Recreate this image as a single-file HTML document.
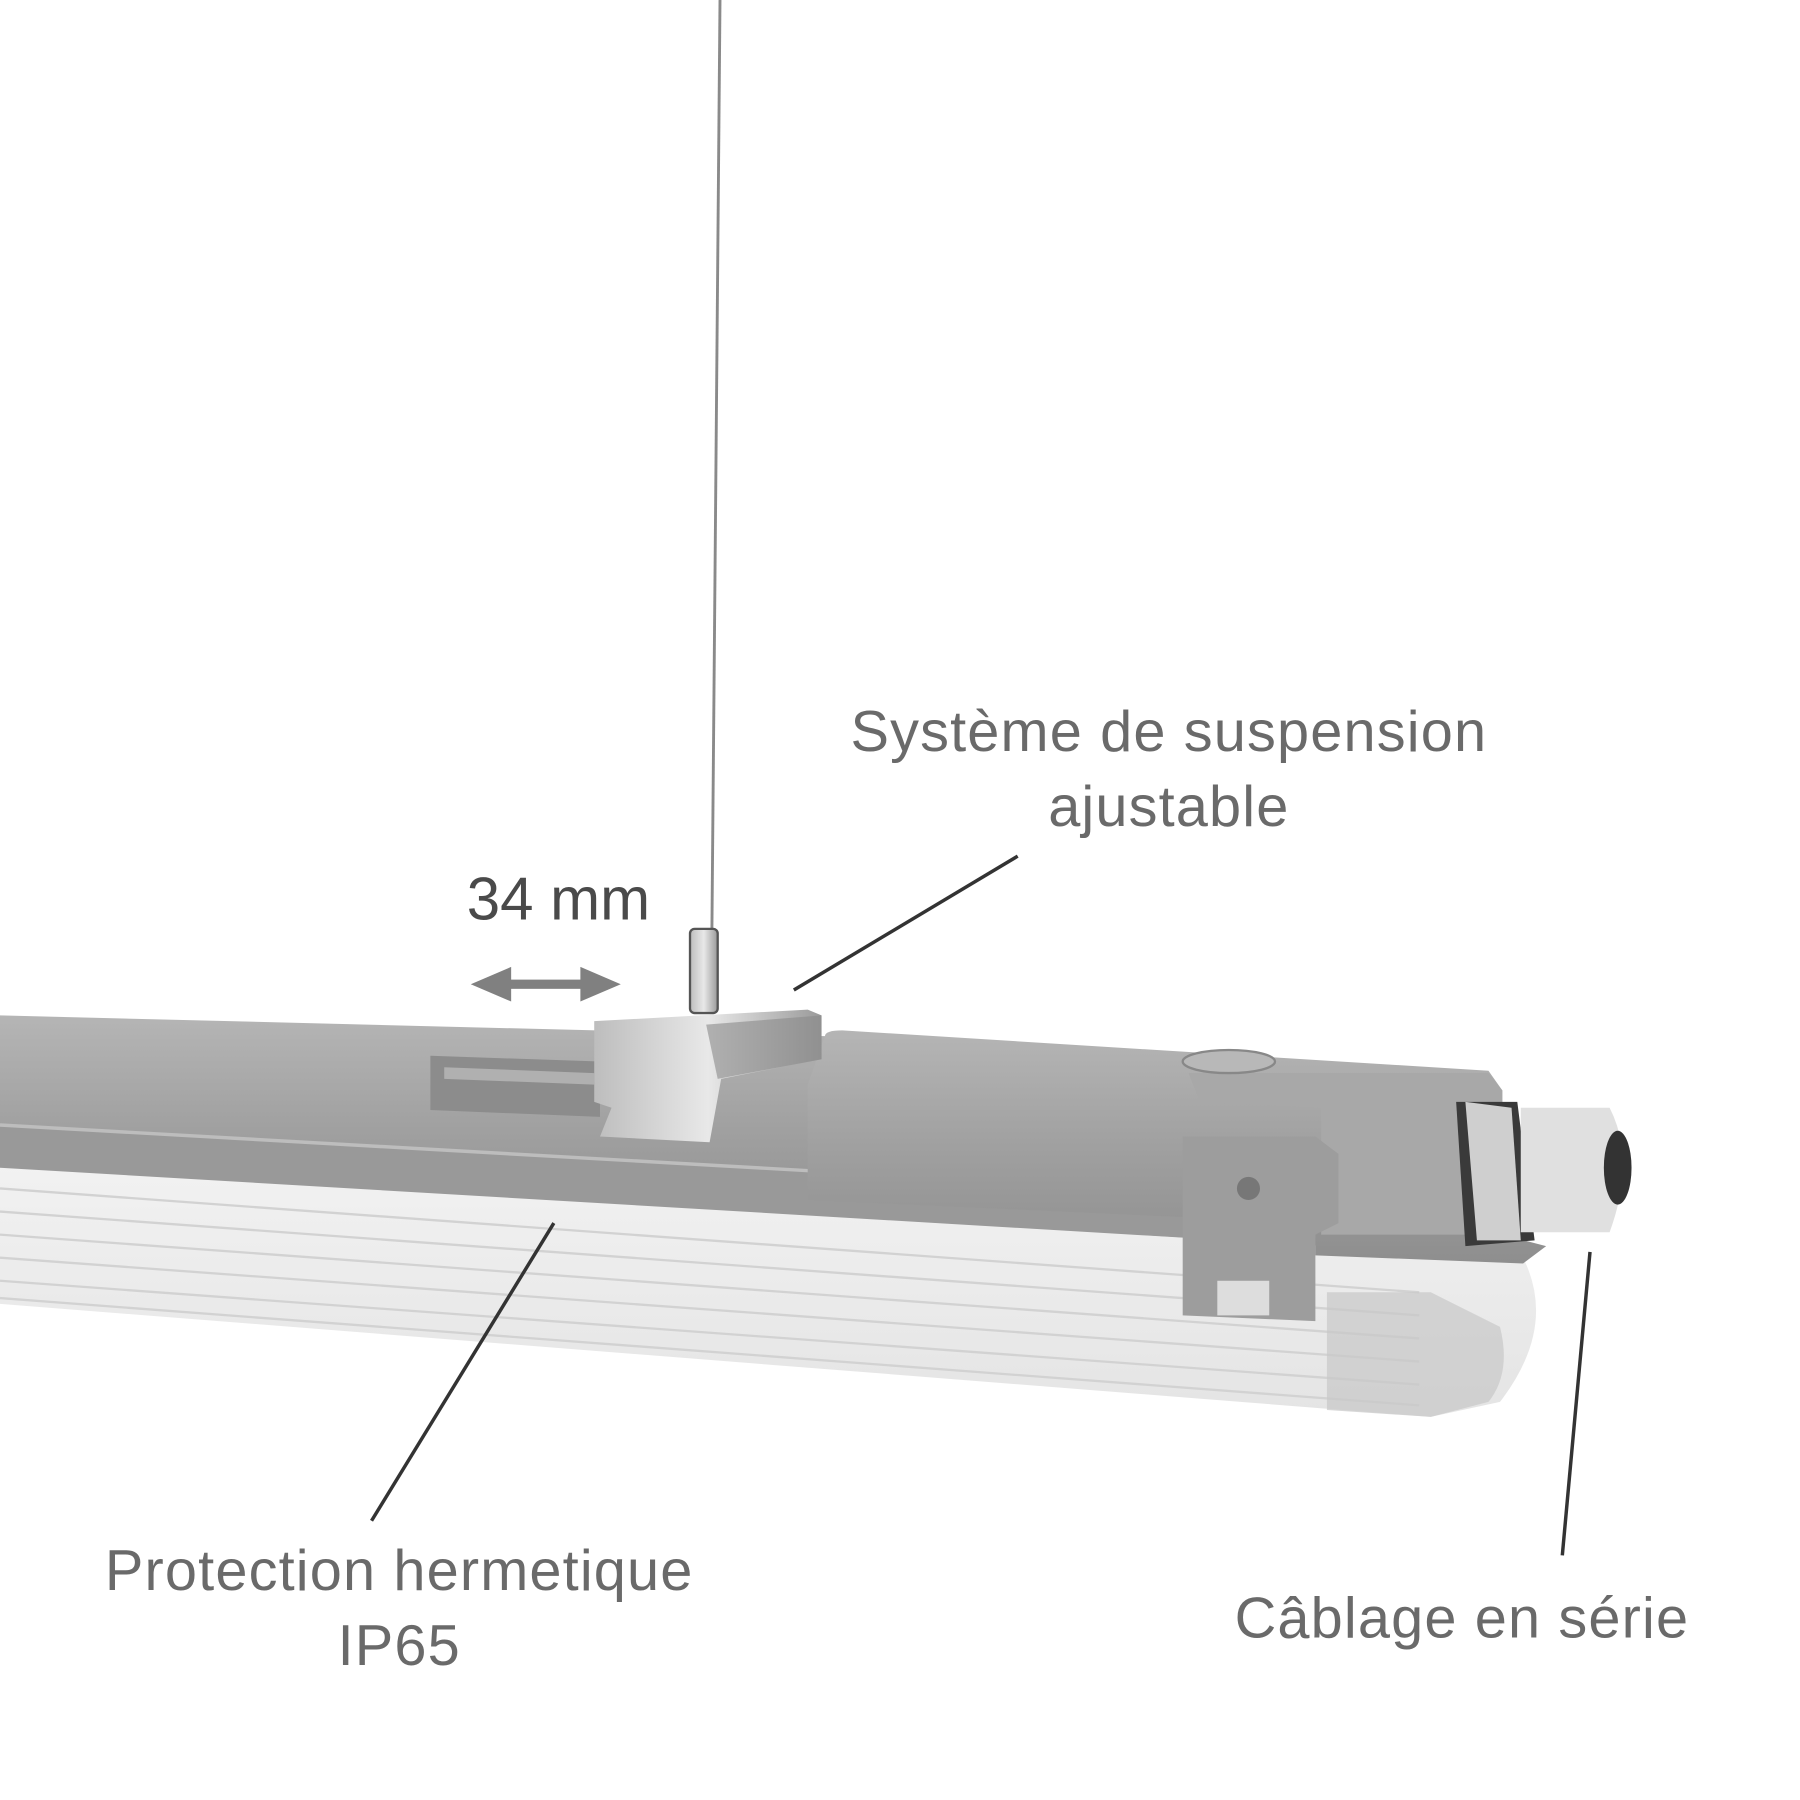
<!DOCTYPE html>
<html><head><meta charset="utf-8"><style>
html,body{margin:0;padding:0;background:#fff;width:1800px;height:1800px;overflow:hidden}
svg{display:block}
.t{font-family:"Liberation Sans",sans-serif;fill:#6a6a6a;font-size:50px;letter-spacing:1px}
</style></head><body>
<svg width="1800" height="1800" viewBox="0 0 1560 1560" xmlns="http://www.w3.org/2000/svg">
<defs>
<linearGradient id="hous" x1="0" y1="0" x2="0" y2="1">
<stop offset="0" stop-color="#b5b5b5"/><stop offset="0.5" stop-color="#a0a0a0"/><stop offset="1" stop-color="#8e8e8e"/>
</linearGradient>
<linearGradient id="diff" x1="0" y1="0" x2="0" y2="1">
<stop offset="0" stop-color="#f2f2f2"/><stop offset="1" stop-color="#e4e4e4"/>
</linearGradient>
<linearGradient id="met" x1="0" y1="0" x2="1" y2="0">
<stop offset="0" stop-color="#bdbdbd"/><stop offset="0.5" stop-color="#e8e8e8"/><stop offset="1" stop-color="#9a9a9a"/>
</linearGradient>
</defs>
<line x1="624" y1="0" x2="617" y2="805" stroke="#8a8a8a" stroke-width="2.5"/>
<path d="M0,1005 L1140,1075 L1320,1090 Q1350,1150 1300,1215 L1240,1228 L0,1130 Z" fill="url(#diff)"/>
<g stroke="#d2d2d2" stroke-width="2">
<line x1="0" y1="1030" x2="1230" y2="1120"/><line x1="0" y1="1050" x2="1230" y2="1140"/>
<line x1="0" y1="1070" x2="1230" y2="1160"/><line x1="0" y1="1090" x2="1230" y2="1180"/>
<line x1="0" y1="1110" x2="1230" y2="1200"/><line x1="0" y1="1125" x2="1230" y2="1218"/>
</g>
<path d="M1150,1120 L1240,1120 L1300,1150 Q1310,1190 1290,1215 L1240,1228 L1150,1222 Z" fill="#c8c8c8" opacity="0.7"/>
<path d="M0,880 L715,898 L715,940 L1150,965 L1150,1080 L0,1010 Z" fill="url(#hous)"/>
<path d="M0,975 L1150,1040 L1150,1080 L0,1012 Z" fill="#999"/>
<line x1="0" y1="975" x2="1150" y2="1040" stroke="#bdbdbd" stroke-width="3"/>
<path d="M373,915 L520,920 L520,968 L373,962 Z" fill="#8c8c8c"/>
<path d="M385,925 L515,930 L515,940 L385,935 Z" fill="#b0b0b0"/>
<path d="M715,898 Q715,893 730,893 L1290,928 L1302,945 L1302,1070 L1340,1080 L1320,1095 L1140,1088 L1140,1060 L700,1040 L700,940 Z" fill="url(#hous)"/>
<path d="M1030,930 L1290,930 L1302,945 L1302,1070 L1145,1070 L1145,960 L1040,955 Z" fill="#a8a8a8"/>
<ellipse cx="1065" cy="920" rx="40" ry="10" fill="#b8b8b8" stroke="#888" stroke-width="2"/>
<path d="M1025,985 L1140,985 L1160,1000 L1160,1060 L1140,1070 L1140,1145 L1025,1140 Z" fill="#9d9d9d"/>
<rect x="1055" y="1110" width="45" height="30" fill="#ddd"/>
<circle cx="1082" cy="1030" r="10" fill="#777"/>
<path d="M1262,955 L1315,955 L1330,1075 L1270,1080 Z" fill="#3a3a3a"/>
<path d="M1270,955 L1310,960 L1318,1075 L1280,1075 Z" fill="#cfcfcf"/>
<path d="M1318,960 L1395,960 Q1418,1005 1395,1068 L1318,1068 Z" fill="#e0e0e0"/>
<ellipse cx="1402" cy="1012" rx="12" ry="32" fill="#333"/>
<path d="M515,885 L700,875 L712,880 L712,918 L625,935 L615,990 L520,985 L530,960 L515,955 Z" fill="url(#met)"/>
<path d="M612,888 L712,880 L712,918 L622,935 Z" fill="#8a8a8a" opacity="0.6"/>
<rect x="598" y="805" width="24" height="73" rx="4" fill="url(#met)" stroke="#555" stroke-width="2"/>
<text class="t" x="1013" y="651" text-anchor="middle">Système de suspension</text>
<text class="t" x="1013" y="716" text-anchor="middle">ajustable</text>
<text x="484" y="797" text-anchor="middle" style="font-family:'Liberation Sans',sans-serif;font-size:52px;fill:#4a4a4a">34 mm</text>
<text class="t" x="346" y="1378" text-anchor="middle">Protection hermetique</text>
<text class="t" x="346" y="1443" text-anchor="middle">IP65</text>
<text class="t" x="1267" y="1419" text-anchor="middle">Câblage en série</text>
<g stroke="#333" stroke-width="3">
<line x1="882" y1="742" x2="688" y2="858"/>
<line x1="480" y1="1060" x2="322" y2="1318"/>
<line x1="1378" y1="1085" x2="1354" y2="1348"/>
</g>
<g fill="#808080">
<rect x="428" y="849" width="90" height="8"/>
<polygon points="408,853 443,838 443,868"/>
<polygon points="538,853 503,838 503,868"/>
</g>
</svg>
</body></html>
